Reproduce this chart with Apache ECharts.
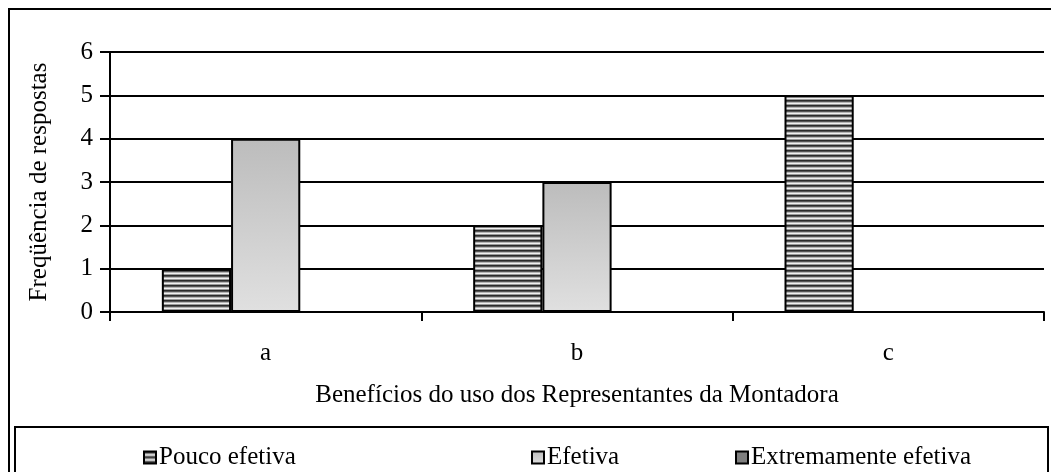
<!DOCTYPE html>
<html>
<head>
<meta charset="utf-8">
<script src="https://cdn.jsdelivr.net/npm/echarts@6/dist/echarts.min.js"></script>
<style>
  html, body { margin: 0; padding: 0; background: #fff; }
  #chart { width: 1051px; height: 472px; }
</style>
</head>
<body>
<div id="chart"></div>
<script>
const categories = ["a", "b", "c"];
const seriesNames = ["Pouco efetiva", "Efetiva", "Extremamente efetiva"];
const poucoEfetiva = [1, 2, 5];
const efetiva = [4, 3, 0];
const extremamenteEfetiva = [0, 0, 0];
const yTicks = [0, 1, 2, 3, 4, 5, 6];

const font = "'Liberation Serif', 'Times New Roman', serif";
const fs = 25;

// horizontal stripes like the old Excel fill
function stripePattern() {
  const c = document.createElement("canvas");
  c.width = 4;
  c.height = 5;
  const ctx = c.getContext("2d");
  const rows = ["#2b2b2b", "#555555", "#b4b4b4", "#f0f0f0", "#9a9a9a"];
  rows.forEach((col, i) => {
    ctx.fillStyle = col;
    ctx.fillRect(0, i, 4, 1);
  });
  return c;
}

const stripes = { image: stripePattern(), repeat: "repeat" };
const greyFade = {
  type: "linear", x: 0, y: 0, x2: 0, y2: 1,
  colorStops: [{ offset: 0, color: "#bcbcbc" }, { offset: 1, color: "#e0e0e0" }],
};

const chart = echarts.init(document.getElementById("chart"));

function barSeries(name, data, fill) {
  return {
    name,
    type: "bar",
    data,
    barGap: 0,
    barCategoryGap: "33.3%",
    itemStyle: { color: fill, borderColor: "#000", borderWidth: 2 },
  };
}

function legendAt(name, left) {
  return {
    data: [name],
    left,
    top: 440,
    icon: "rect",
    itemWidth: 12,
    itemHeight: 12,
    itemGap: 4,
    textStyle: { fontFamily: font, fontSize: fs, color: "#000", padding: [0, 0, 0, -2] },
  };
}

chart.setOption({
  animation: false,
  textStyle: { fontFamily: font },
  graphic: [
    { type: "rect", shape: { x: 9, y: 9, width: 1060, height: 480 }, style: { fill: "none", stroke: "#000", lineWidth: 2 } },
    { type: "rect", shape: { x: 15, y: 427, width: 1033, height: 60 }, style: { fill: "none", stroke: "#000", lineWidth: 2 } },
  ],
  grid: { left: 110, right: 7, top: 52, bottom: 160 },
  legend: [
    legendAt(seriesNames[0], 138),
    legendAt(seriesNames[1], 526),
    legendAt(seriesNames[2], 730),
  ],
  xAxis: {
    type: "category",
    data: categories,
    name: "Benefícios do uso dos Representantes da Montadora",
    nameLocation: "middle",
    nameGap: 71,
    nameTextStyle: { fontFamily: font, fontSize: fs, color: "#000" },
    axisLine: { lineStyle: { color: "#000", width: 2 } },
    axisTick: { show: true, interval: 0, length: 9, lineStyle: { color: "#000", width: 2 } },
    axisLabel: { fontFamily: font, fontSize: fs, color: "#000", margin: 29 },
  },
  yAxis: {
    type: "value",
    min: yTicks[0],
    max: yTicks[yTicks.length - 1],
    interval: 1,
    name: "Freqüência de respostas",
    nameLocation: "middle",
    nameGap: 58,
    nameTextStyle: { fontFamily: font, fontSize: fs, color: "#000" },
    axisLine: { show: true, lineStyle: { color: "#000", width: 2 } },
    axisTick: { show: true, length: 10, lineStyle: { color: "#000", width: 2 } },
    axisLabel: { fontFamily: font, fontSize: fs, color: "#000", margin: 17 },
    splitLine: { lineStyle: { color: "#000", width: 2 } },
  },
  series: [
    barSeries(seriesNames[0], poucoEfetiva, stripes),
    barSeries(seriesNames[1], efetiva, greyFade),
    barSeries(seriesNames[2], extremamenteEfetiva, "#7f7f7f"),
  ],
});
</script>
</body>
</html>
